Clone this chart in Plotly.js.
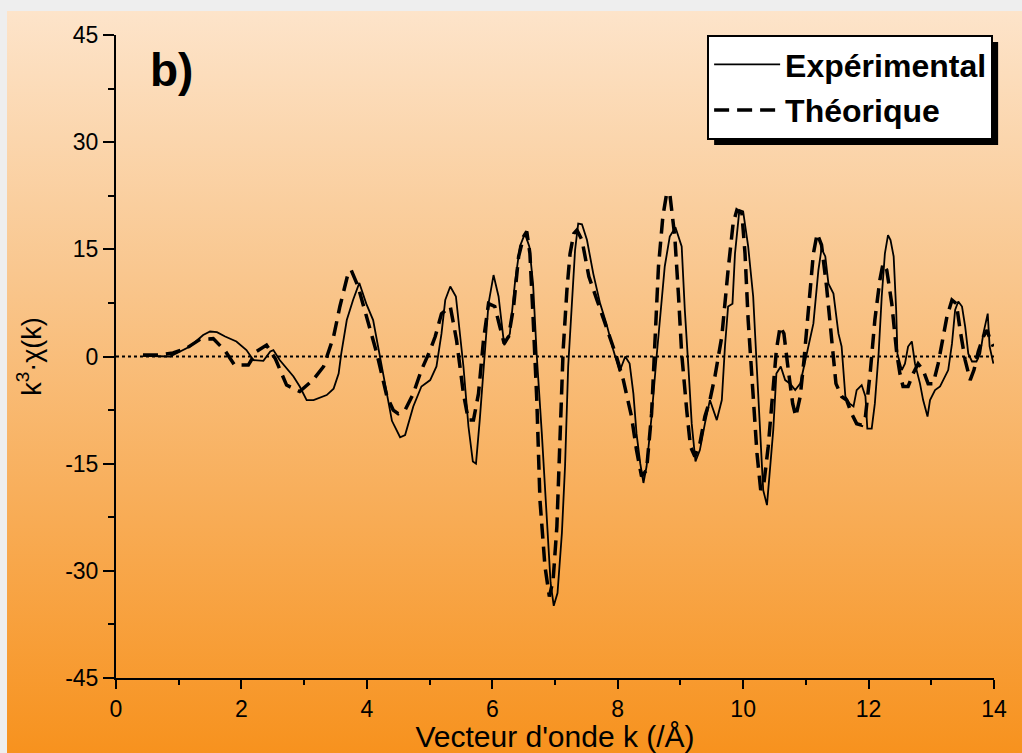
<!DOCTYPE html>
<html>
<head>
<meta charset="utf-8">
<script src="https://cdn.plot.ly/plotly-3.0.1.min.js"></script>
<style>
  html, body { margin: 0; padding: 0; background: #eeeeee; }
  #wrap { position: relative; width: 1022px; height: 753px; overflow: hidden; background: #eeeeee; }
  #bg { position: absolute; left: 7px; top: 11px; right: 0; bottom: 0;
        background: linear-gradient(to bottom, #fde4ca 0%, #f9c78f 35%, #f7921e 100%); }
  #plot { position: absolute; left: 0; top: 0; width: 1022px; height: 753px; }
</style>
</head>
<body>
<div id="wrap"><div id="bg"></div><div id="plot"></div></div>
<script>
// Experimental k^3 chi(k)
const expK = [0.43,0.86,1.18,1.39,1.50,1.61,1.74,1.92,2.08,2.19,2.35,2.46,2.51,2.61,2.83,2.93,3.04,3.15,3.36,3.47,3.55,3.59,3.68,3.78,3.88,3.99,4.10,4.21,4.40,4.53,4.61,4.74,4.87,5.01,5.11,5.19,5.25,5.33,5.42,5.54,5.62,5.69,5.74,5.80,5.88,5.94,6.02,6.10,6.19,6.28,6.36,6.44,6.52,6.59,6.65,6.71,6.79,6.87,6.93,6.98,7.04,7.11,7.16,7.21,7.27,7.32,7.37,7.43,7.51,7.61,7.72,7.82,7.93,8.03,8.12,8.19,8.25,8.30,8.36,8.41,8.46,8.54,8.62,8.70,8.75,8.83,8.92,9.02,9.07,9.13,9.18,9.24,9.31,9.39,9.47,9.58,9.66,9.71,9.76,9.83,9.87,9.94,10.00,10.08,10.16,10.22,10.27,10.32,10.38,10.43,10.48,10.53,10.60,10.67,10.75,10.83,10.91,10.97,11.04,11.12,11.20,11.25,11.31,11.36,11.44,11.52,11.57,11.63,11.70,11.76,11.81,11.89,11.95,11.98,12.05,12.10,12.16,12.21,12.26,12.31,12.35,12.40,12.44,12.46,12.53,12.58,12.63,12.69,12.74,12.82,12.87,12.94,12.98,13.06,13.14,13.22,13.27,13.33,13.38,13.43,13.49,13.54,13.59,13.65,13.72,13.78,13.83,13.90,13.93,13.99];
const expChi = [0.1,0.0,1.4,3.0,3.5,3.4,2.8,2.1,0.9,-0.5,-0.6,0.7,0.9,-0.5,-2.8,-4.2,-6.1,-6.1,-5.4,-4.5,-2.4,0.3,5.1,7.9,10.3,7.4,5.1,0.0,-9.0,-11.3,-11.0,-7.0,-4.2,-3.3,-1.4,3.2,7.9,9.8,8.4,-1.4,-9.8,-14.7,-15.0,-8.9,0.4,7.4,11.4,8.4,1.6,3.2,10.2,15.4,17.2,15.4,10.2,0.0,-10.8,-22.4,-31.7,-34.9,-33.1,-24.7,-15.4,-1.4,7.9,14.9,18.6,18.5,16.3,11.6,7.4,4.6,0.9,-2.1,0.0,-1.0,-5.2,-10.8,-15.0,-17.7,-15.4,-8.4,0.0,7.9,12.6,16.8,18.1,15.4,6.5,-1.9,-9.4,-14.7,-13.1,-9.4,-6.1,-8.9,-6.1,1.4,7.0,7.4,14.4,20.5,20.3,15.4,8.4,-1.9,-11.2,-18.7,-20.8,-15.9,-10.3,-2.4,-1.4,-3.3,-3.8,-4.7,-3.8,-1.4,1.4,4.6,12.1,15.1,14.0,10.2,8.8,3.2,1.4,-5.6,-6.6,-7.0,-4.7,-4.0,-5.6,-10.1,-10.1,-6.6,0.4,8.4,14.4,17.0,16.3,14.0,6.5,0.4,-1.9,-1.0,1.4,2.1,-1.0,-3.8,-6.1,-8.4,-6.1,-4.7,-4.2,-2.8,-1.9,1.8,6.5,7.7,7.0,4.2,0.4,-0.7,-0.7,0.4,3.2,6.0,1.4,-1.0];

// Theoretical k^3 chi(k)
const theoK = [0.43,0.70,0.91,1.13,1.34,1.55,1.74,1.89,2.11,2.24,2.40,2.54,2.72,2.93,3.14,3.31,3.47,3.57,3.70,3.75,3.86,3.99,4.16,4.32,4.42,4.50,4.61,4.74,4.87,5.01,5.09,5.19,5.33,5.43,5.54,5.62,5.70,5.78,5.86,5.94,6.04,6.12,6.19,6.26,6.34,6.42,6.50,6.55,6.60,6.65,6.71,6.76,6.84,6.91,6.97,7.03,7.08,7.13,7.19,7.24,7.30,7.35,7.43,7.54,7.67,7.82,7.98,8.09,8.22,8.30,8.38,8.46,8.54,8.59,8.65,8.72,8.78,8.83,8.91,8.97,9.02,9.10,9.16,9.23,9.31,9.39,9.47,9.55,9.66,9.76,9.84,9.90,9.98,10.03,10.08,10.15,10.22,10.28,10.33,10.40,10.47,10.53,10.59,10.65,10.72,10.79,10.84,10.91,10.97,11.04,11.12,11.18,11.25,11.33,11.41,11.48,11.57,11.65,11.73,11.81,11.89,11.95,12.03,12.10,12.18,12.23,12.29,12.37,12.45,12.50,12.55,12.63,12.71,12.79,12.87,12.95,13.03,13.11,13.18,13.25,13.33,13.40,13.46,13.54,13.62,13.68,13.75,13.83,13.89,13.94,13.99];
const theoChi = [0.2,0.2,0.5,1.2,2.4,2.5,0.8,-1.2,-1.2,0.7,1.6,-0.3,-4.0,-4.9,-3.3,-1.4,2.8,7.0,11.6,12.1,9.8,5.6,0.4,-5.6,-7.5,-8.0,-7.5,-5.2,-1.9,0.9,2.8,6.0,7.0,2.3,-5.2,-8.9,-8.9,-5.2,2.3,7.4,7.0,4.2,1.8,2.8,7.0,14.0,16.8,17.5,14.4,5.6,-6.1,-20.1,-29.4,-33.6,-31.3,-23.8,-10.8,0.9,9.3,14.4,17.2,17.7,16.3,11.2,7.9,4.2,0.0,-3.3,-8.4,-13.1,-16.8,-15.9,-8.0,1.4,12.6,19.6,22.8,22.8,16.8,8.4,0.4,-7.5,-12.6,-14.0,-12.2,-8.4,-6.1,-2.8,2.8,12.1,18.6,20.5,20.0,14.4,5.1,-4.2,-13.5,-18.7,-17.8,-12.6,-5.6,0.9,4.2,3.2,-1.9,-6.6,-8.4,-5.6,-0.5,6.5,14.4,17.2,15.6,9.8,2.8,-3.8,-5.6,-6.1,-8.0,-9.4,-9.6,-8.4,-1.9,5.1,10.7,13.0,12.1,7.4,0.4,-2.4,-4.2,-4.2,-2.4,-1.0,-1.9,-3.8,-3.8,-1.0,2.3,5.6,7.9,7.4,3.7,-0.5,-3.3,-1.9,0.7,2.8,3.7,2.3,1.4];

const seriesNames = ['Expérimental', 'Théorique'];
const panelLabel = 'b)';
const xTitle = "Vecteur d'onde k (/Å)";
const yTitle = 'k<sup>3</sup>·χ(k)';
const xTicks = [0, 2, 4, 6, 8, 10, 12, 14];
const yTicks = [-45, -30, -15, 0, 15, 30, 45];

const FONT = 'Liberation Sans, Arial, Helvetica, sans-serif';

const traces = [
  { x: expK, y: expChi, name: seriesNames[0], legendgroup: 'a', type: 'scatter', mode: 'lines',
    line: { color: '#000', width: 1.8 } },
  { x: theoK, y: theoChi, name: seriesNames[1], legendgroup: 'b', type: 'scatter', mode: 'lines',
    line: { color: '#000', width: 3.5, dash: '15px,8px' } }
];

const L = 116, R = 28, T = 35, B = 75;

const layout = {
  width: 1022, height: 753,
  margin: { l: L, r: R, t: T, b: B, pad: 0 },
  paper_bgcolor: 'rgba(0,0,0,0)',
  plot_bgcolor: 'rgba(0,0,0,0)',
  font: { family: FONT, color: '#000', size: 23 },
  showlegend: true,
  legend: {
    x: 0.999, y: 1, xanchor: 'right', yanchor: 'top',
    bgcolor: '#fff', bordercolor: '#000', borderwidth: 2,
    font: { family: FONT, size: 32, color: '#000', weight: 'bold' },
    itemwidth: 66, traceorder: 'grouped', tracegroupgap: 1
  },
  xaxis: {
    range: [0, 14], tickvals: xTicks, ticktext: xTicks.map(String),
    showgrid: false, zeroline: false,
    showline: true, linecolor: '#000', linewidth: 2,
    ticks: 'outside', ticklen: 9, tickwidth: 2, tickcolor: '#000',
    tickfont: { family: FONT, size: 23, color: '#000' },
    minor: { dtick: 1, ticks: 'outside', ticklen: 5, tickwidth: 2, tickcolor: '#000', showgrid: false },
    title: { text: xTitle, font: { family: FONT, size: 30, color: '#000' }, standoff: 4 },
    automargin: false
  },
  yaxis: {
    range: [-45, 45], tickvals: yTicks, ticktext: yTicks.map(String),
    showgrid: false, zeroline: false,
    showline: true, linecolor: '#000', linewidth: 2,
    ticks: 'outside', ticklen: 11, tickwidth: 2, tickcolor: '#000',
    tickfont: { family: FONT, size: 23, color: '#000' },
    minor: { dtick: 7.5, ticks: 'outside', ticklen: 6, tickwidth: 2, tickcolor: '#000', showgrid: false },
    title: { text: yTitle, font: { family: FONT, size: 27, color: '#000' }, standoff: 16 },
    automargin: false
  },
  shapes: [
    { type: 'line', xref: 'paper', yref: 'y', x0: 0, x1: 1, y0: 0, y1: 0,
      line: { color: '#000', width: 1.8, dash: 'dot' }, layer: 'below' }
  ],
  annotations: [
    { text: panelLabel, xref: 'paper', yref: 'paper', x: 0.036, y: 0.946,
      xanchor: 'left', yanchor: 'middle', showarrow: false,
      font: { family: FONT, size: 46, color: '#000', weight: 'bold' } }
  ]
};

Plotly.newPlot('plot', traces, layout, { displayModeBar: false, staticPlot: true }).then(function (gd) {
  const bg = gd.querySelector('.legend .bg');
  if (!bg) return;
  const r = bg.getBoundingClientRect();
  const pr = gd.getBoundingClientRect();
  const W = 1022 - L - R, H = 753 - T - B;
  const off = 6;
  const x0 = (r.left - pr.left + off - L) / W;
  const x1 = (r.right - pr.left + off - L) / W;
  const y0 = 1 - (r.top - pr.top + off - T) / H;
  const y1 = 1 - (r.bottom - pr.top + off - T) / H;
  const shapes = gd.layout.shapes.slice();
  shapes.push({ type: 'rect', xref: 'paper', yref: 'paper', x0: x0, x1: x1, y0: y0, y1: y1,
    fillcolor: '#000', line: { width: 0 }, layer: 'above' });
  return Plotly.relayout(gd, { shapes: shapes });
});
</script>
</body>
</html>
